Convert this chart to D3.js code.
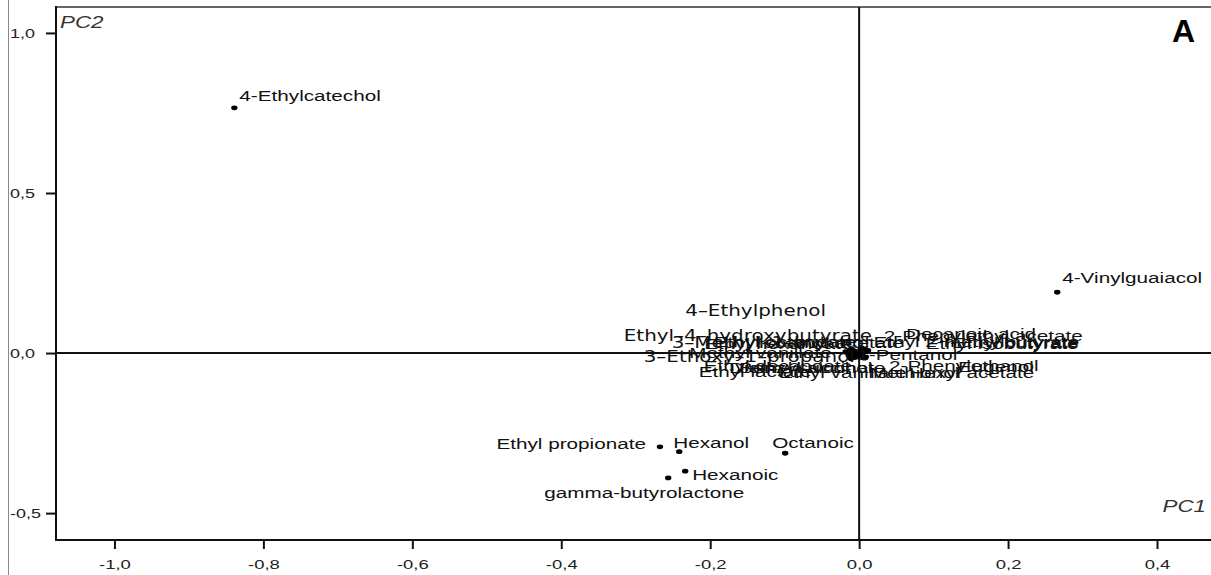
<!DOCTYPE html>
<html><head><meta charset="utf-8">
<script src="https://cdn.jsdelivr.net/npm/d3@7"></script>
<style>body{margin:0;background:#fff}svg{display:block}</style>
</head><body>
<svg id="chart" width="1211" height="575"></svg>
<script>
// ---- data (PCA loadings) ----
const compounds = [
  "4-Ethylcatechol","4-Vinylguaiacol","Ethyl propionate","Hexanol","Octanoic","Hexanoic","gamma-butyrolactone",
  "4–Ethylphenol","Ethyl–4–hydroxybutyrate","3–Methyl–1–butanol","3–Ethoxy–1–propanol","Methyl vanillate",
  "Ethyl lactate","Ethyl hexanoate","Ethyl octanoate","Ethyl decanoate","Diethyl succinate","Isoamyl acetate",
  "Ethyl butyrate","Ethyl isobutyrate","Ethyl 2-methylbutyrate","2-Phenylethyl acetate","Decanoic acid",
  "1-Pentanol","2-Phenylethanol","Methionol","Hexyl acetate","Benzyl alcohol","Eugenol","Ethyl vanillate"
];
const pc1 = [
  -0.839, 0.266, -0.2675, -0.2416, -0.0993, -0.2336, -0.2564,
  -0.012, -0.018, -0.006, -0.010, -0.004,
  -0.014, -0.008, 0.002, -0.002, 0.004, 0.006,
  0.008, 0.010, 0.003, 0.005, 0.012,
  -0.001, 0.004, -0.006, 0.007, -0.003, 0.009, -0.011
];
const pc2 = [
  0.766, 0.190, -0.293, -0.308, -0.313, -0.369, -0.390,
  0.010, 0.004, 0.006, -0.004, -0.002,
  -0.008, 0.008, 0.012, -0.012, -0.006, 0.004,
  0.010, 0.006, 0.016, 0.014, 0.008,
  -0.001, -0.010, -0.014, -0.016, -0.007, -0.012, -0.018
];
const xTicks = [-1.0, -0.8, -0.6, -0.4, -0.2, 0.0, 0.2, 0.4];
const yTicks = [-0.5, 0.0, 0.5, 1.0];
const xDomain = [-1.0785, 0.4725];
const yDomain = [-0.584, 1.081];

// ---- label layout (pixel offsets from point, anchor, font family) ----
const labelDx = [5, 5, -14, -6, -13, 7, -24,
  -165, -222, -183, -208, -167,
  -150, -149, -147, -154, -133, -105,
  214, 212, 218, 21, 38,
  99, 27, 15, 170, -118, 168, -72];
const labelDy = [-12, -14, -3, -9, -10, 4, 15,
  -39, -16, -8, 3, -1,
  16, -6, -7, 9, 13, -9,
  -7, -7, -6, -13, -16,
  2, 10, 15, 15, 13, 10, 14];
const labelAnchor = ["start","start","end","start","start","start","middle",
  "start","start","start","start","start",
  "start","start","start","start","start","start",
  "end","end","end","start","start",
  "end","start","start","end","start","end","start"];
const dejavu = new Set([7, 8, 9, 10]);

const W = 1211, H = 575;
const svg = d3.select("#chart");
const x = d3.scaleLinear().domain(xDomain).range([56, 1211]);
const y = d3.scaleLinear().domain(yDomain).range([540, 7]);
const fmt = v => v.toFixed(1).replace(".", ",");
const SANS = "'Liberation Sans', Arial, Helvetica, sans-serif";
const SX = 1.38;

// left thin line
svg.append("line").attr("x1", 8.5).attr("x2", 8.5).attr("y1", 0).attr("y2", H)
  .attr("stroke", "#888").attr("stroke-width", 1);

// frame
svg.append("line").attr("x1", x(xDomain[0])).attr("x2", W).attr("y1", y(yDomain[1])).attr("y2", y(yDomain[1]))
  .attr("stroke", "#666").attr("stroke-width", 2);
svg.append("line").attr("x1", x(xDomain[0])).attr("x2", x(xDomain[0])).attr("y1", y(yDomain[1]) - 1).attr("y2", y(yDomain[0]) + 1)
  .attr("stroke", "#111").attr("stroke-width", 2);
svg.append("line").attr("x1", x(xDomain[0]) - 1).attr("x2", W).attr("y1", y(yDomain[0])).attr("y2", y(yDomain[0]))
  .attr("stroke", "#111").attr("stroke-width", 2);

// zero reference lines
svg.append("line").attr("x1", x(0)).attr("x2", x(0)).attr("y1", y(yDomain[1])).attr("y2", y(yDomain[0]))
  .attr("stroke", "#111").attr("stroke-width", 2);
svg.append("line").attr("x1", x(xDomain[0])).attr("x2", W).attr("y1", y(0)).attr("y2", y(0))
  .attr("stroke", "#111").attr("stroke-width", 2);

// x axis
const gx = svg.append("g").attr("transform", `translate(0,${y(yDomain[0])})`)
  .call(d3.axisBottom(x).tickValues(xTicks).tickFormat(fmt).tickSize(9).tickSizeOuter(0));
gx.select(".domain").remove();
gx.selectAll(".tick line").attr("stroke", "#111").attr("stroke-width", 2);
gx.selectAll(".tick text").attr("y", 0).attr("dy", 0)
  .attr("transform", `translate(0,29) scale(${SX + 0.04},1)`)
  .attr("font-family", SANS).attr("font-size", 13).attr("fill", "#222");

// y axis
const gy = svg.append("g").attr("transform", `translate(${x(xDomain[0])},0)`)
  .call(d3.axisLeft(y).tickValues(yTicks).tickFormat(fmt).tickSize(10).tickSizeOuter(0));
gy.select(".domain").remove();
gy.selectAll(".tick line").attr("stroke", "#111").attr("stroke-width", 2);
gy.selectAll(".tick text").attr("x", 0).attr("dy", "0.35em").attr("text-anchor", "start")
  .attr("transform", `translate(-46,0) scale(${SX},1)`)
  .attr("font-family", SANS).attr("font-size", 13).attr("fill", "#222");

// axis titles
svg.append("text").text("PC2").attr("transform", `translate(60,28) scale(1.4,1)`)
  .attr("font-family", SANS).attr("font-style", "italic").attr("font-size", 16).attr("fill", "#333");
svg.append("text").text("PC1").attr("transform", `translate(1206,512) scale(1.4,1)`).attr("text-anchor", "end")
  .attr("font-family", SANS).attr("font-style", "italic").attr("font-size", 16).attr("fill", "#333");
svg.append("text").text("A").attr("x", 1172).attr("y", 42)
  .attr("font-family", SANS).attr("font-weight", "bold").attr("font-size", 32).attr("fill", "#000");

// points
const idx = d3.range(compounds.length);
svg.append("g").selectAll("ellipse").data(idx).join("ellipse")
  .attr("cx", i => x(pc1[i])).attr("cy", i => y(pc2[i]))
  .attr("rx", 3.2).attr("ry", 2.4).attr("fill", "#000");

// labels
svg.append("g").selectAll("text").data(idx).join("text")
  .text(i => compounds[i])
  .attr("transform", i => `translate(${x(pc1[i]) + labelDx[i]},${y(pc2[i]) + labelDy[i]}) scale(${dejavu.has(i) ? 1.33 : SX},1)`)
  .attr("text-anchor", i => labelAnchor[i])
  .attr("dominant-baseline", "central")
  .attr("font-family", i => dejavu.has(i) ? "'DejaVu Sans', sans-serif" : SANS)
  .attr("font-size", 15).attr("fill", "#111");
</script>
</body></html>
